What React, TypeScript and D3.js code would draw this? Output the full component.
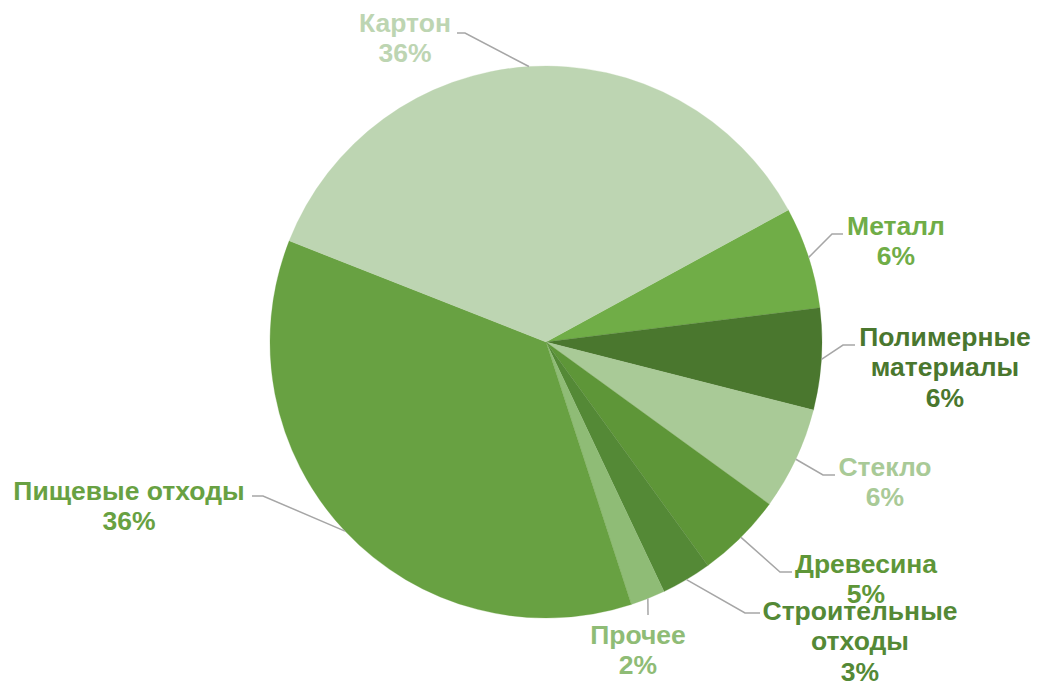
import React from "react";
import * as d3 from "d3";

const categories = ["Металл", "Полимерные материалы", "Стекло", "Древесина", "Строительные отходы", "Прочее", "Пищевые отходы", "Картон"];
const values = [5.97, 5.94, 6.03, 5.03, 2.94, 2.03, 35.97, 36.08];
const percentLabels = ["6%", "6%", "6%", "5%", "3%", "2%", "36%", "36%"];
const labelLines = [["Металл"], ["Полимерные", "материалы"], ["Стекло"], ["Древесина"], ["Строительные", "отходы"], ["Прочее"], ["Пищевые отходы"], ["Картон"]];
const colors = ["#70AD47", "#4A772E", "#A9CA97", "#5E9638", "#548936", "#8FBC76", "#68A142", "#BDD5B2"];

// label layout: elbow point, line end, text center x, first-line center y
const layout = [
  { ex: 832, ey: 234, lx: 843, tx: 896, ty: 225 },
  { ex: 843, ey: 345, lx: 855, tx: 945, ty: 336 },
  { ex: 823, ey: 475, lx: 835, tx: 885, ty: 466 },
  { ex: 780, ey: 572, lx: 792, tx: 866, ty: 563 },
  { ex: 745, ey: 613, lx: 760, tx: 860, ty: 610 },
  { ex: 648, ey: 615, lx: 648, tx: 638, ty: 634 },
  { ex: 263, ey: 496, lx: 252, tx: 129, ty: 490 },
  { ex: 465, ey: 33, lx: 457, tx: 405, ty: 22 },
];

const W = 1038, H = 682;
const cx = 546, cy = 342, R = 276;
const startDeg = 61.4;
const lineH = 30.5;

export default function App() {
  const pie = d3.pie<number>().sort(null).value((d) => d)
    .startAngle((startDeg * Math.PI) / 180)
    .endAngle((startDeg * Math.PI) / 180 + 2 * Math.PI);
  const arcs = pie(values);
  const arc = d3.arc<d3.PieArcDatum<number>>().innerRadius(0).outerRadius(R);

  return (
    <svg width={W} height={H} style={{ position: "absolute", left: 0, top: 0, background: "#fff" }}
      fontFamily="'Liberation Sans', Arial, sans-serif">
      <g transform={`translate(${cx},${cy})`}>
        {arcs.map((a, i) => (
          <path key={i} d={arc(a) || ""} fill={colors[i]} stroke={colors[i]} strokeWidth={0.3} />
        ))}
      </g>
      {arcs.map((a, i) => {
        const mid = (a.startAngle + a.endAngle) / 2;
        const sx = cx + R * Math.sin(mid);
        const sy = cy - R * Math.cos(mid);
        const L = layout[i];
        return (
          <polyline key={"l" + i} points={`${sx},${sy} ${L.ex},${L.ey} ${L.lx},${L.ey}`}
            fill="none" stroke="#A6A6A6" strokeWidth={1.5} />
        );
      })}
      {categories.map((c, i) => {
        const L = layout[i];
        const lines = [...labelLines[i], percentLabels[i]];
        return (
          <text key={"t" + i} fill={colors[i]} fontSize={26.5} fontWeight="bold" textAnchor="middle">
            {lines.map((s, j) => (
              <tspan key={j} x={L.tx} y={L.ty + j * lineH + 9.5}>{s}</tspan>
            ))}
          </text>
        );
      })}
    </svg>
  );
}
